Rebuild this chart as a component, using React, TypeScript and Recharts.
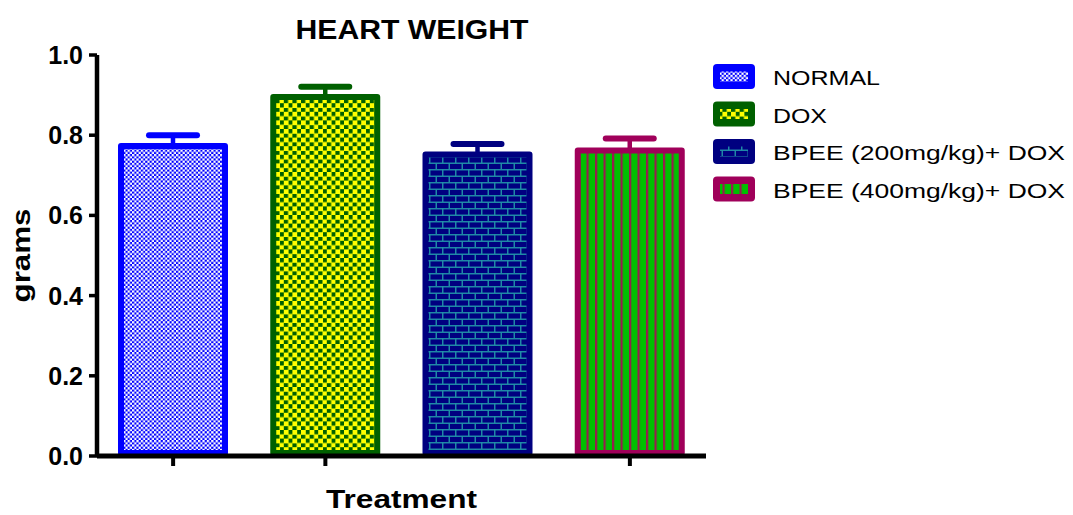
import React from "react";
import { BarChart, Bar, XAxis, YAxis, Label } from "recharts";

// heart weight per treatment group (mean, SEM), in grams
const groups = ["NORMAL", "DOX", "BPEE (200mg/kg)+ DOX", "BPEE (400mg/kg)+ DOX"];
const meanGrams = [0.773, 0.895, 0.752, 0.762];
const semGrams = [0.027, 0.026, 0.026, 0.03];
const yTicks = [0, 0.2, 0.4, 0.6, 0.8, 1.0];

const edgeColors = ["#0000FF", "#006000", "#000080", "#A0005A"];
const legendTextWidths = [107, 54, 292, 292];

const FONT = '"Liberation Sans", Arial, sans-serif';

const rows = groups.map((group, i) => ({
  group,
  mean: meanGrams[i],
  sem: semGrams[i],
}));

function patternDef(id: string, index: number) {
  if (index === 0) {
    return (
      <pattern id={id} width={4.4} height={4.4} patternUnits="userSpaceOnUse">
        <rect width={4.4} height={4.4} fill="#0000FF" />
        <rect x={0} y={0} width={2.3} height={2.3} fill="#FFFFFF" />
        <rect x={2.2} y={2.2} width={2.3} height={2.3} fill="#FFFFFF" />
      </pattern>
    );
  }
  if (index === 1) {
    return (
      <pattern id={id} width={8.6} height={8.6} patternUnits="userSpaceOnUse">
        <rect width={8.6} height={8.6} fill="#006000" />
        <rect x={0} y={0} width={4.8} height={4.8} fill="#FFFF00" />
        <rect x={4.3} y={4.3} width={4.8} height={4.8} fill="#FFFF00" />
      </pattern>
    );
  }
  if (index === 2) {
    return (
      <pattern id={id} width={13} height={13} patternUnits="userSpaceOnUse">
        <rect width={13} height={13} fill="#000080" />
        <line x1={0} x2={13} y1={0.75} y2={0.75} stroke="#2090A8" strokeWidth={1.4} />
        <line x1={0} x2={13} y1={7.25} y2={7.25} stroke="#2090A8" strokeWidth={1.4} />
        <line x1={0.75} x2={0.75} y1={0} y2={7} stroke="#2090A8" strokeWidth={1.4} />
        <line x1={7.25} x2={7.25} y1={7} y2={13} stroke="#2090A8" strokeWidth={1.4} />
      </pattern>
    );
  }
  return (
    <pattern id={id} width={8.5} height={8.5} patternUnits="userSpaceOnUse">
      <rect width={8.5} height={8.5} fill="#00C000" />
      <rect x={0} y={0} width={2.2} height={8.5} fill="#9A1A50" />
    </pattern>
  );
}

function PatternBar(props: any) {
  const { x, y, width, height, index, payload } = props;
  const edge = edgeColors[index];
  const perUnit = height / payload.mean;
  const errTop = y - payload.sem * perUnit;
  const cx = x + width / 2;
  const id = `bar-fill-${index}`;
  return (
    <g>
      <defs>{patternDef(id, index)}</defs>
      <line x1={cx} x2={cx} y1={y} y2={errTop} stroke={edge} strokeWidth={4.5} />
      <line
        x1={cx - 24}
        x2={cx + 24}
        y1={errTop}
        y2={errTop}
        stroke={edge}
        strokeWidth={6}
        strokeLinecap="round"
      />
      <rect
        x={x + 3}
        y={y}
        width={width - 6}
        height={height - 3}
        fill={`url(#${id})`}
        stroke={edge}
        strokeWidth={6}
        strokeLinejoin="round"
      />
    </g>
  );
}

function YTick(props: any) {
  const { x, y, payload } = props;
  return (
    <text
      x={x}
      y={y}
      dy="0.36em"
      textAnchor="end"
      fontFamily={FONT}
      fontWeight={700}
      fontSize={25}
      fill="#000"
    >
      {Number(payload.value).toFixed(1)}
    </text>
  );
}

export default function App() {
  return (
    <div
      style={{
        position: "absolute",
        left: 0,
        top: 0,
        width: 1073,
        height: 515,
        background: "#fff",
      }}
    >
      <BarChart
        width={1073}
        height={515}
        data={rows}
        margin={{ top: 55, right: 367, bottom: 29, left: 37 }}
        barSize={110}
      >
        <Bar
          dataKey="mean"
          shape={PatternBar}
          isAnimationActive={false}
        />
        <XAxis
          dataKey="group"
          height={30}
          stroke="#000"
          axisLine={{ strokeWidth: 5 }}
          tickLine={{ strokeWidth: 4 }}
          tickSize={10}
          tick={() => <g />}
        >
          <Label
            content={(p: any) => {
              const vb = p.viewBox;
              return (
                <text
                  x={vb.x + vb.width / 2}
                  y={vb.y + 52}
                  textAnchor="middle"
                  fontFamily={FONT}
                  fontWeight={700}
                  fontSize={26}
                  textLength={151}
                  lengthAdjust="spacingAndGlyphs"
                >
                  Treatment
                </text>
              );
            }}
          />
        </XAxis>
        <YAxis
          type="number"
          domain={[0, 1]}
          ticks={yTicks}
          width={60}
          stroke="#000"
          axisLine={{ strokeWidth: 4.5 }}
          tickLine={{ strokeWidth: 3.5 }}
          tickSize={8}
          tickMargin={6}
          tick={YTick}
        >
          <Label
            content={(p: any) => {
              const vb = p.viewBox;
              const cx = vb.x - 7;
              const cy = vb.y + vb.height / 2;
              return (
                <text
                  x={cx}
                  y={cy}
                  transform={`rotate(-90 ${cx} ${cy})`}
                  textAnchor="middle"
                  fontFamily={FONT}
                  fontWeight={700}
                  fontSize={26}
                  textLength={94}
                  lengthAdjust="spacingAndGlyphs"
                >
                  grams
                </text>
              );
            }}
          />
        </YAxis>
      </BarChart>
      <svg
        width={1073}
        height={515}
        style={{ position: "absolute", left: 0, top: 0, pointerEvents: "none" }}
      >
        <defs>{groups.map((_, i) => patternDef(`legend-fill-${i}`, i))}</defs>
        <text
          x={412}
          y={39}
          textAnchor="middle"
          fontFamily={FONT}
          fontWeight={700}
          fontSize={27}
          textLength={233}
          lengthAdjust="spacingAndGlyphs"
        >
          HEART WEIGHT
        </text>
        {groups.map((g, i) => {
          const top = 64 + i * 37.5;
          return (
            <g key={g}>
              <rect x={713} y={top} width={42} height={25} rx={4} fill={edgeColors[i]} />
              <rect
                x={720}
                y={top + 7.5}
                width={28}
                height={10}
                fill={`url(#legend-fill-${i})`}
              />
              <text
                x={773}
                y={top + 21}
                fontFamily={FONT}
                fontSize={21}
                textLength={legendTextWidths[i]}
                lengthAdjust="spacingAndGlyphs"
              >
                {g}
              </text>
            </g>
          );
        })}
      </svg>
    </div>
  );
}
